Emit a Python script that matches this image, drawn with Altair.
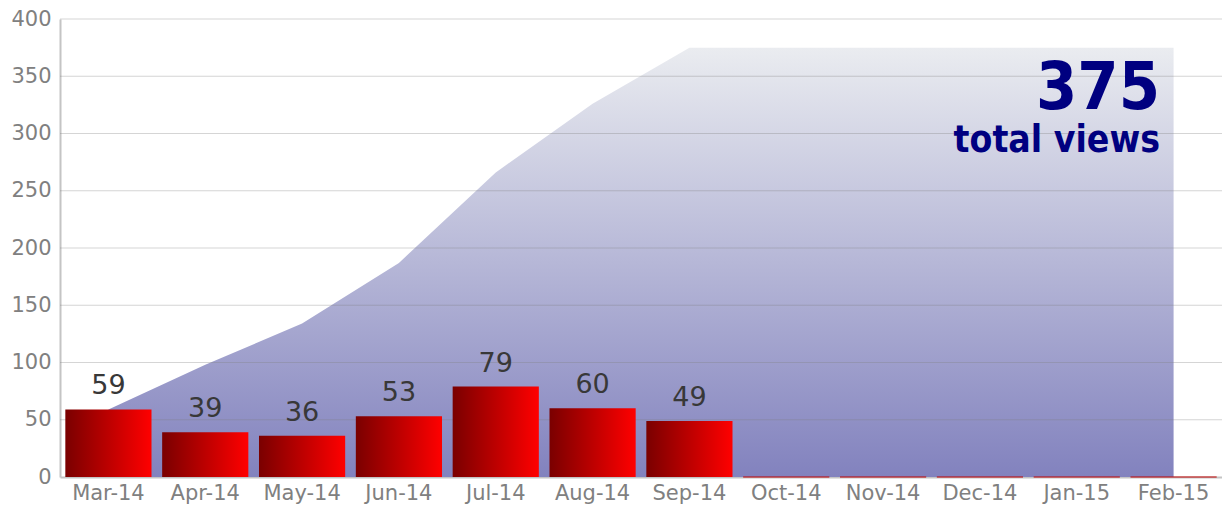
import altair as alt
import pandas as pd

months = ["Mar-14", "Apr-14", "May-14", "Jun-14", "Jul-14", "Aug-14",
          "Sep-14", "Oct-14", "Nov-14", "Dec-14", "Jan-15", "Feb-15"]
views = [59, 39, 36, 53, 79, 60, 49, 0, 0, 0, 0, 0]
cumulative = [59, 98, 134, 187, 266, 326, 375, 375, 375, 375, 375, 375]
grid_values = [50, 100, 150, 200, 250, 300, 350, 400]
total_label = "total views"

df = pd.DataFrame({"month": months, "views": views, "cum": cumulative})
grid_df = pd.DataFrame({"v": grid_values})
total_df = pd.DataFrame({"total": [str(cumulative[-1])], "label": [total_label]})

FONT = "DejaVu Sans"
x_enc = alt.X("month:N", sort=months, title=None,
              scale=alt.Scale(paddingInner=0.11, paddingOuter=0.055),
              axis=alt.Axis(labelAngle=0, ticks=False, labelFontSize=21,
                            labelColor="#808080", labelFont=FONT, labelPadding=5,
                            domainColor="#c4c4c4", domainWidth=2, grid=False))
y_scale = alt.Scale(domain=[0, 400], nice=False)

base = alt.Chart(df)

area = base.mark_area(
    interpolate="linear",
    color=alt.Gradient(gradient="linear",
                       stops=[alt.GradientStop(color="#eaecf0", offset=0),
                              alt.GradientStop(color="#8282be", offset=1)],
                       x1=0, x2=0, y1=0, y2=1),
).encode(
    x=x_enc,
    y=alt.Y("cum:Q", scale=y_scale, title=None,
            axis=alt.Axis(values=[0] + grid_values, grid=False, ticks=False,
                          labelFontSize=21, labelColor="#808080", labelFont=FONT,
                          labelPadding=9, domainColor="#c4c4c4", domainWidth=2)),
)

grid = alt.Chart(grid_df).mark_rule(color="#808080", opacity=0.33, strokeWidth=1.2).encode(
    y=alt.Y("v:Q", scale=y_scale)
)

bars = base.mark_bar(
    color=alt.Gradient(gradient="linear",
                       stops=[alt.GradientStop(color="#7a0000", offset=0),
                              alt.GradientStop(color="#ff0000", offset=1)],
                       x1=0, x2=1, y1=0, y2=0),
).encode(
    x=alt.X("month:N", sort=months),
    y=alt.Y("views:Q", scale=y_scale),
)

zero_bars = base.transform_filter("datum.views == 0").mark_bar(
    stroke="#c00000", strokeWidth=1.2, color="#c00000"
).encode(
    x=alt.X("month:N", sort=months),
    y=alt.Y("views:Q", scale=y_scale),
)

labels = base.transform_filter("datum.views > 0").mark_text(
    baseline="bottom", dy=-9, fontSize=27, font=FONT, color="#383838"
).encode(
    x=alt.X("month:N", sort=months),
    y=alt.Y("views:Q", scale=y_scale),
    text="views:Q",
)

big = alt.Chart(total_df).mark_text(
    align="right", baseline="alphabetic", fontSize=66, fontWeight="bold",
    font="DejaVu Sans Condensed, DejaVu Sans", color="#000080"
).encode(x=alt.value(1100), y=alt.value(90), text="total:N")

small = alt.Chart(total_df).mark_text(
    align="right", baseline="alphabetic", fontSize=37, fontWeight="bold",
    font="DejaVu Sans Condensed, DejaVu Sans", color="#000080"
).encode(x=alt.value(1100), y=alt.value(133), text="label:N")

chart = alt.layer(area, grid, bars, zero_bars, labels, big, small).properties(
    width=1162, height=458,
    autosize=alt.AutoSizeParams(type="none"),
    padding={"left": 52, "top": 11, "right": 0, "bottom": 28},
).configure_view(stroke=None)

chart.save("out.html", embed_options={"renderer": "svg", "actions": False})
